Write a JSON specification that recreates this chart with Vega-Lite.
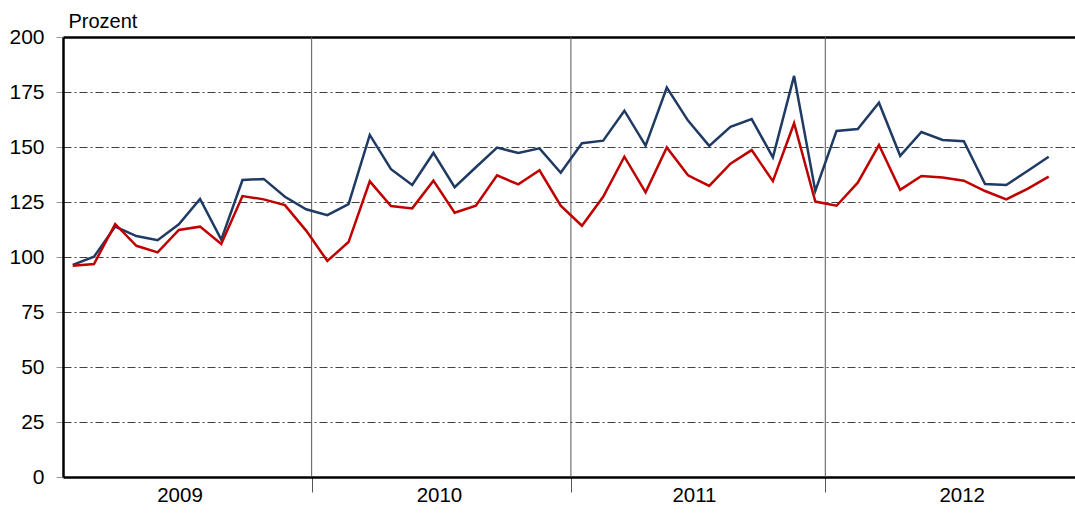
{
  "$schema": "https://vega.github.io/schema/vega-lite/v6.json",
  "width": 1012,
  "height": 440,
  "autosize": {"type": "none"},
  "padding": {"left": 63, "top": 37, "right": 0, "bottom": 36},
  "config": {"view": {"stroke": null}, "font": "Liberation Sans", "background": "white"},
  "datasets": {
    "sep": [{"x": 11.26}, {"x": 23.48}, {"x": 35.47}],
    "series": [
      {"m": 0, "s": "A", "v": 96.4}, {"m": 1, "s": "A", "v": 100.1}, {"m": 2, "s": "A", "v": 113.8}, {"m": 3, "s": "A", "v": 109.5},
      {"m": 4, "s": "A", "v": 107.6}, {"m": 5, "s": "A", "v": 114.9}, {"m": 6, "s": "A", "v": 126.4}, {"m": 7, "s": "A", "v": 107.9},
      {"m": 8, "s": "A", "v": 135.0}, {"m": 9, "s": "A", "v": 135.5}, {"m": 10, "s": "A", "v": 127.4}, {"m": 11, "s": "A", "v": 121.7},
      {"m": 12, "s": "A", "v": 119.0}, {"m": 13, "s": "A", "v": 124.0}, {"m": 14, "s": "A", "v": 155.5}, {"m": 15, "s": "A", "v": 139.9},
      {"m": 16, "s": "A", "v": 132.7}, {"m": 17, "s": "A", "v": 147.3}, {"m": 18, "s": "A", "v": 131.7}, {"m": 19, "s": "A", "v": 140.8},
      {"m": 20, "s": "A", "v": 149.7}, {"m": 21, "s": "A", "v": 147.3}, {"m": 22, "s": "A", "v": 149.4}, {"m": 23, "s": "A", "v": 138.3},
      {"m": 24, "s": "A", "v": 151.7}, {"m": 25, "s": "A", "v": 152.9}, {"m": 26, "s": "A", "v": 166.5}, {"m": 27, "s": "A", "v": 150.6},
      {"m": 28, "s": "A", "v": 177.0}, {"m": 29, "s": "A", "v": 162.0}, {"m": 30, "s": "A", "v": 150.5}, {"m": 31, "s": "A", "v": 159.2},
      {"m": 32, "s": "A", "v": 162.7}, {"m": 33, "s": "A", "v": 145.3}, {"m": 34, "s": "A", "v": 182.3}, {"m": 35, "s": "A", "v": 130.0},
      {"m": 36, "s": "A", "v": 157.3}, {"m": 37, "s": "A", "v": 158.2}, {"m": 38, "s": "A", "v": 170.1}, {"m": 39, "s": "A", "v": 146.0},
      {"m": 40, "s": "A", "v": 156.8}, {"m": 41, "s": "A", "v": 153.2}, {"m": 42, "s": "A", "v": 152.6}, {"m": 43, "s": "A", "v": 133.2},
      {"m": 44, "s": "A", "v": 132.7}, {"m": 45, "s": "A", "v": 139.1}, {"m": 46, "s": "A", "v": 145.6},
      {"m": 0, "s": "B", "v": 96.0}, {"m": 1, "s": "B", "v": 96.8}, {"m": 2, "s": "B", "v": 115.0}, {"m": 3, "s": "B", "v": 105.1},
      {"m": 4, "s": "B", "v": 102.1}, {"m": 5, "s": "B", "v": 112.3}, {"m": 6, "s": "B", "v": 113.8}, {"m": 7, "s": "B", "v": 105.9},
      {"m": 8, "s": "B", "v": 127.7}, {"m": 9, "s": "B", "v": 126.2}, {"m": 10, "s": "B", "v": 123.6}, {"m": 11, "s": "B", "v": 112.0},
      {"m": 12, "s": "B", "v": 98.2}, {"m": 13, "s": "B", "v": 106.8}, {"m": 14, "s": "B", "v": 134.4}, {"m": 15, "s": "B", "v": 123.2},
      {"m": 16, "s": "B", "v": 122.1}, {"m": 17, "s": "B", "v": 134.7}, {"m": 18, "s": "B", "v": 120.1}, {"m": 19, "s": "B", "v": 123.3},
      {"m": 20, "s": "B", "v": 137.1}, {"m": 21, "s": "B", "v": 133.0}, {"m": 22, "s": "B", "v": 139.4}, {"m": 23, "s": "B", "v": 123.3},
      {"m": 24, "s": "B", "v": 114.2}, {"m": 25, "s": "B", "v": 127.4}, {"m": 26, "s": "B", "v": 145.6}, {"m": 27, "s": "B", "v": 129.4},
      {"m": 28, "s": "B", "v": 149.8}, {"m": 29, "s": "B", "v": 137.1}, {"m": 30, "s": "B", "v": 132.3}, {"m": 31, "s": "B", "v": 142.4},
      {"m": 32, "s": "B", "v": 148.6}, {"m": 33, "s": "B", "v": 134.5}, {"m": 34, "s": "B", "v": 160.8}, {"m": 35, "s": "B", "v": 125.2},
      {"m": 36, "s": "B", "v": 123.3}, {"m": 37, "s": "B", "v": 133.8}, {"m": 38, "s": "B", "v": 150.9}, {"m": 39, "s": "B", "v": 130.5},
      {"m": 40, "s": "B", "v": 136.8}, {"m": 41, "s": "B", "v": 136.1}, {"m": 42, "s": "B", "v": 134.7}, {"m": 43, "s": "B", "v": 130.0},
      {"m": 44, "s": "B", "v": 126.2}, {"m": 45, "s": "B", "v": 131.0}, {"m": 46, "s": "B", "v": 136.5}
    ]
  },
  "layer": [
    {
      "data": {"name": "sep"},
      "mark": {"type": "rule", "color": "#555555", "strokeWidth": 1},
      "encoding": {
        "x": {
          "field": "x",
          "type": "quantitative",
          "scale": {"domain": [-0.46, 47.24], "nice": false, "zero": false},
          "axis": {
            "orient": "bottom",
            "values": [11.26, 23.48, 35.47],
            "labels": false,
            "ticks": true,
            "tickSize": 15,
            "tickColor": "#555555",
            "tickWidth": 1,
            "domain": true,
            "domainColor": "#000000",
            "domainWidth": 2.5,
            "grid": false,
            "title": null
          }
        }
      }
    },
    {
      "data": {"name": "series"},
      "mark": {"type": "line", "strokeWidth": 2.5, "clip": false},
      "encoding": {
        "x": {
          "field": "m",
          "type": "quantitative",
          "scale": {"domain": [-0.46, 47.24], "nice": false, "zero": false},
          "axis": {
            "orient": "bottom",
            "values": [5.03, 17.26, 29.28, 41.9],
            "labelExpr": "datum.value < 11 ? '2009' : datum.value < 23 ? '2010' : datum.value < 35 ? '2011' : '2012'",
            "ticks": false,
            "domain": false,
            "grid": false,
            "labelFontSize": 20.5,
            "labelColor": "#000000",
            "labelPadding": 8,
            "labelFlush": false,
            "labelOverlap": false,
            "title": null
          }
        },
        "y": {
          "field": "v",
          "type": "quantitative",
          "scale": {"domain": [0, 200], "nice": false},
          "axis": {
            "values": [0, 25, 50, 75, 100, 125, 150, 175, 200],
            "grid": true,
            "gridColor": {"condition": {"test": "datum.value === 200", "value": "#000000"}, "value": "#404040"},
            "gridDash": {"condition": {"test": "datum.value === 200", "value": []}, "value": [8, 3, 2, 3]},
            "gridWidth": {"condition": {"test": "datum.value === 200", "value": 2.5}, "value": 1},
            "domain": true,
            "domainColor": "#000000",
            "domainWidth": 2.5,
            "ticks": true,
            "tickSize": 7,
            "tickColor": "#999999",
            "labelFontSize": 21,
            "labelColor": "#000000",
            "labelPadding": 12,
            "title": "Prozent",
            "titleAngle": 0,
            "titleAlign": "left",
            "titleBaseline": "alphabetic",
            "titleX": 5,
            "titleY": -10,
            "titleFontSize": 20,
            "titleFontWeight": "normal",
            "titleColor": "#000000"
          }
        },
        "color": {
          "field": "s",
          "type": "nominal",
          "scale": {"domain": ["A", "B"], "range": ["#1F3B63", "#C00000"]},
          "legend": null
        }
      }
    }
  ],
  "resolve": {"axis": {"x": "independent"}}
}
